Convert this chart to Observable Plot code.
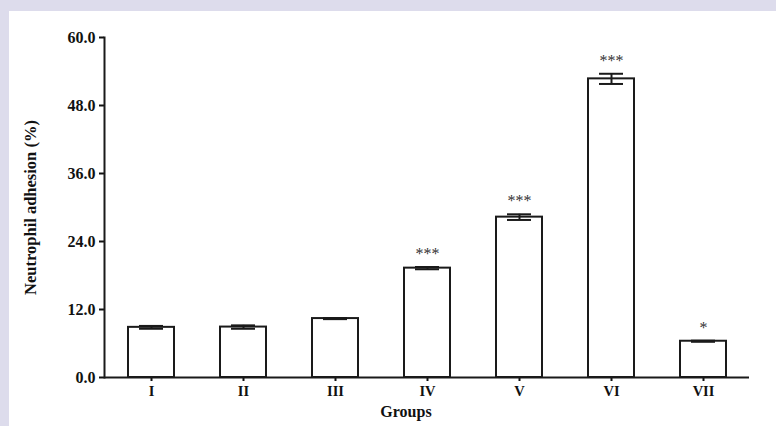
<!DOCTYPE html>
<html>
<head>
<meta charset="utf-8">
<script src="https://cdn.jsdelivr.net/npm/d3@7"></script>
<script src="https://cdn.jsdelivr.net/npm/@observablehq/plot@0.6"></script>
<style>
  html, body { margin: 0; padding: 0; background: #dddcec; }
  #wrap { padding: 11px 0 0 9px; width: 767px; height: 415px; }
  svg { background: #ffffff; display: block; }
</style>
</head>
<body>
<div id="wrap"></div>
<script>
const groups = ["I", "II", "III", "IV", "V", "VI", "VII"];
const means  = [8.85, 8.9, 10.4, 19.3, 28.3, 52.7, 6.4];
const errs   = [0.25, 0.3, 0.1, 0.2, 0.5, 0.9, 0.1];
const stars  = ["", "", "", "***", "***", "***", "*"];
const yTicks = [0, 12, 24, 36, 48, 60];

const data = groups.map((g, i) => ({g, m: means[i], e: errs[i], s: stars[i]}));
const font = "'Liberation Serif', 'Times New Roman', serif";

const chart = Plot.plot({
  width: 767,
  height: 415,
  marginLeft: 95,
  marginRight: 27,
  marginTop: 26,
  marginBottom: 49,
  style: {fontFamily: font, background: "#ffffff", color: "#111"},
  x: {domain: groups, paddingInner: 0.5, paddingOuter: 0.25, label: null},
  y: {domain: [0, 60], label: null},
  marks: [
    Plot.barY(data, {x: "g", y: "m", fill: "white", stroke: "#1a1a1a", strokeWidth: 2}),
    Plot.ruleX(data, {x: "g", y1: d => d.m - d.e, y2: d => d.m + d.e, stroke: "#1a1a1a", strokeWidth: 2}),
    Plot.tickY(data, {x: "g", y: d => d.m + d.e, insetLeft: 11, insetRight: 11, stroke: "#1a1a1a", strokeWidth: 2}),
    Plot.tickY(data, {x: "g", y: d => d.m - d.e, insetLeft: 11, insetRight: 11, stroke: "#1a1a1a", strokeWidth: 2}),
    Plot.text(data.filter(d => d.s), {x: "g", y: d => d.m + d.e, text: "s", dy: -13, fontSize: 16, fill: "#333", lineAnchor: "middle"}),
    Plot.axisY({ticks: yTicks, tickFormat: d => d.toFixed(1), tickSize: 5, tickPadding: 4, strokeWidth: 2, fontSize: 16, fontWeight: "bold", label: null}),
    Plot.axisX({tickSize: 4, tickPadding: 4, strokeWidth: 2, fontSize: 14.5, fontWeight: "bold", label: null}),
    Plot.ruleY([0], {stroke: "#1a1a1a", strokeWidth: 2}),
    Plot.frame({anchor: "left", stroke: "#1a1a1a", strokeWidth: 2}),
    Plot.text(["Neutrophil adhesion (%)"], {frameAnchor: "left", textAnchor: "middle", rotate: -90, dx: -74, fontSize: 16.5, fontWeight: "bold", fill: "#111"}),
    Plot.text(["Groups"], {frameAnchor: "bottom", dy: 39, dx: -21, fontSize: 16, fontWeight: "bold", fill: "#111"})
  ]
});
document.getElementById("wrap").appendChild(chart);
</script>
</body>
</html>
